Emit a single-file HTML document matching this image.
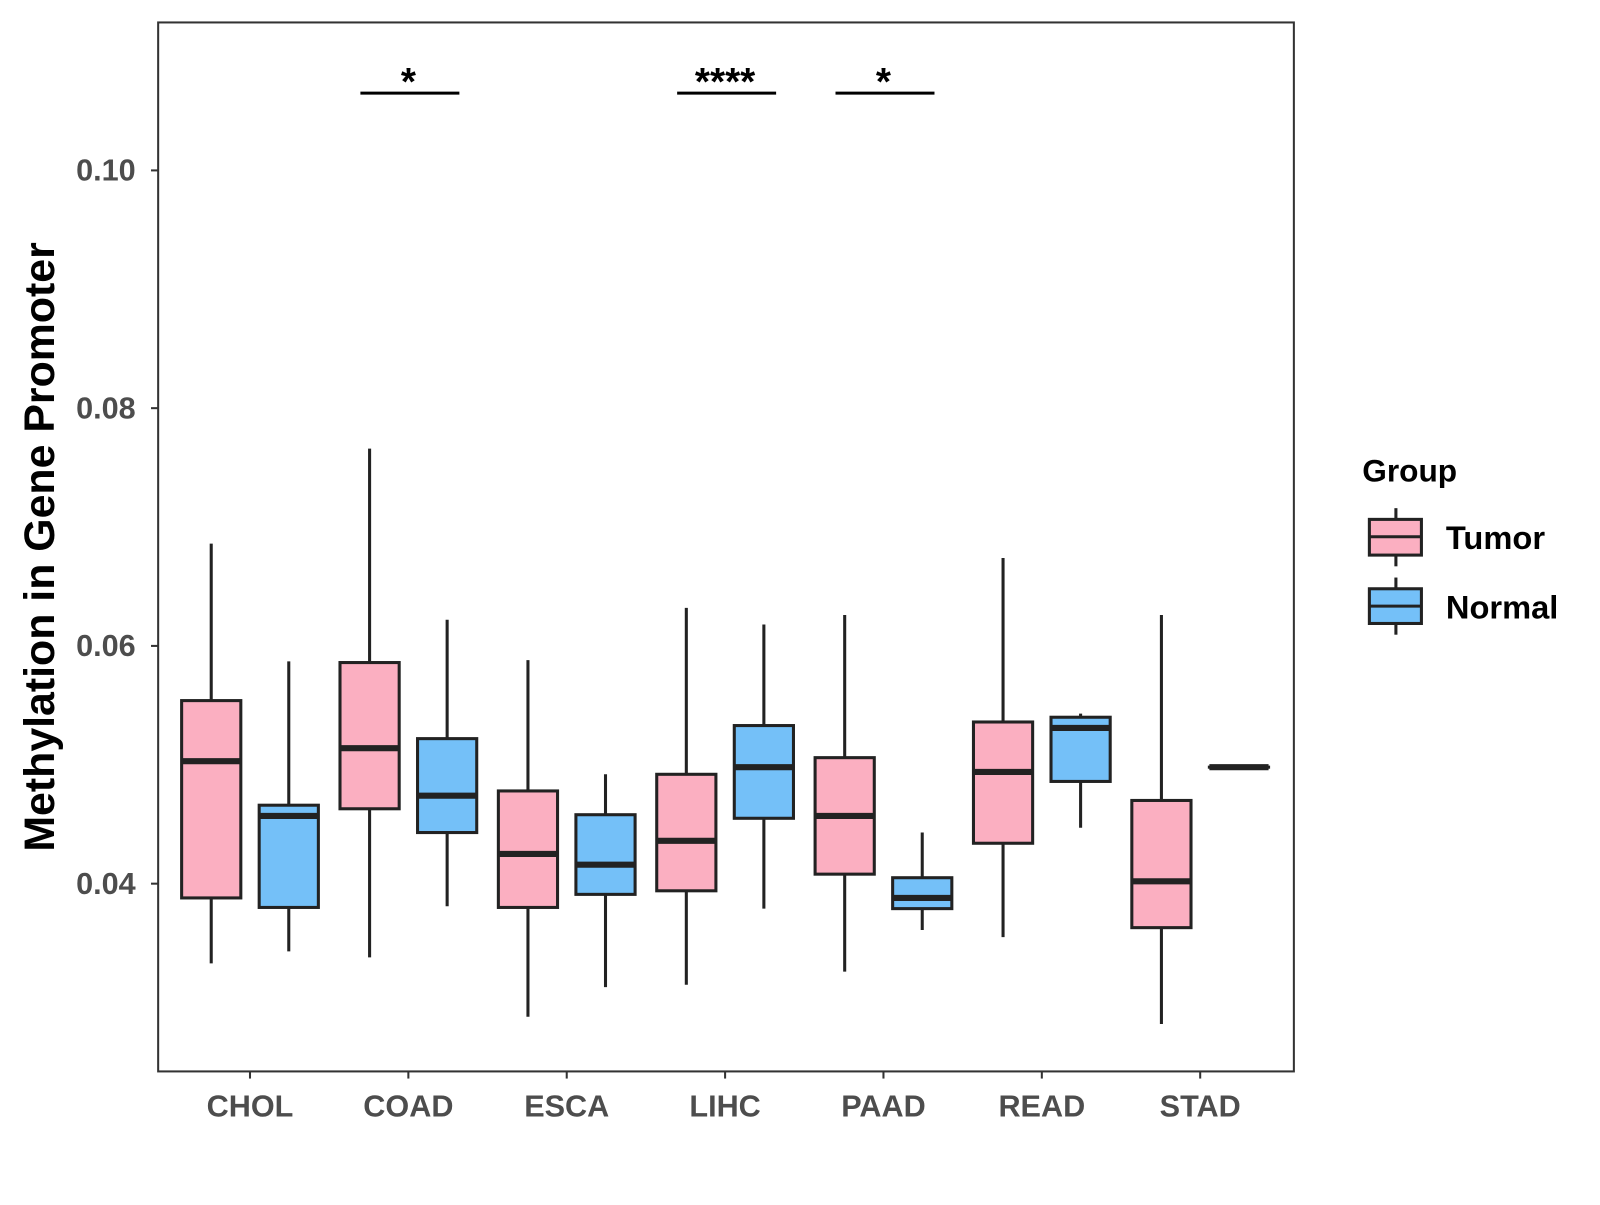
<!DOCTYPE html>
<html><head><meta charset="utf-8"><style>
body{margin:0;background:#fff}
text{font-family:"Liberation Sans",Arial,sans-serif;font-weight:bold}
</style></head><body>
<svg id="chart" width="1600" height="1200" viewBox="0 0 1600 1200" xmlns="http://www.w3.org/2000/svg">
<rect x="0" y="0" width="1600" height="1200" fill="#fff"/>
<g transform="scale(1.0204)">
<rect x="155" y="22" width="1113" height="1028" fill="none" stroke="#333" stroke-width="2"/>
<g id="g"></g>
<text transform="translate(53,536) rotate(-90)" text-anchor="middle" font-size="42" fill="#000">Methylation in Gene Promoter</text>
<text x="1335" y="472" font-size="31" fill="#000">Group</text>
<g>
<line x1="1368" y1="498" x2="1368" y2="555" stroke="#222" stroke-width="3"/>
<rect x="1342" y="509" width="51" height="35" fill="#FBAFC1" stroke="#222" stroke-width="3"/>
<line x1="1342" y1="526" x2="1393" y2="526" stroke="#222" stroke-width="3"/>
<text x="1417" y="538" font-size="32" fill="#000">Tumor</text></g>
<g>
<line x1="1368" y1="566" x2="1368" y2="622" stroke="#222" stroke-width="3"/>
<rect x="1342" y="577" width="51" height="34" fill="#74C0F8" stroke="#222" stroke-width="3"/>
<line x1="1342" y1="594" x2="1393" y2="594" stroke="#222" stroke-width="3"/>
<text x="1417" y="606" font-size="32" fill="#000">Normal</text></g>
</g>
</svg>
<script>
const categories=["CHOL","COAD","ESCA","LIHC","PAAD","READ","STAD"];
// [whiskerLow, q1, median, q3, whiskerHigh]
const tumorStats=[[0.0333,0.0388,0.0503,0.0554,0.0686],[0.0338,0.0463,0.0514,0.0586,0.0766],[0.0288,0.0380,0.0425,0.0478,0.0588],[0.0315,0.0394,0.0436,0.0492,0.0632],[0.0326,0.0408,0.0457,0.0506,0.0626],[0.0355,0.0434,0.0494,0.0536,0.0674],[0.0282,0.0363,0.0402,0.0470,0.0626]];
const normalStats=[[0.0343,0.0380,0.0457,0.0466,0.0587],[0.0381,0.0443,0.0474,0.0522,0.0622],[0.0313,0.0391,0.0416,0.0458,0.0492],[0.0379,0.0455,0.0498,0.0533,0.0618],[0.0361,0.0379,0.0388,0.0405,0.0443],[0.0447,0.0486,0.0531,0.0540,0.0543],[0.0498,0.0498,0.0498,0.0498,0.0498]];
const yTicks=[0.04,0.06,0.08,0.10];
const yTickLabels=["0.04","0.06","0.08","0.10"];
const sigLabels=["","*","","****","*","",""];
const sigY=0.1065;

const NS="http://www.w3.org/2000/svg";
const g=document.getElementById("g");
const yS=v=>866-(v-0.04)*11650;
const xS=i=>245+i*155.2;
function mk(t,a,p){const e=document.createElementNS(NS,t);for(const k in a)e.setAttribute(k,a[k]);(p||g).appendChild(e);return e;}
yTicks.forEach((v,i)=>{
  const y=yS(v);
  const t=mk("line",{x1:148,x2:155,y1:y,y2:y,stroke:"#333","stroke-width":2});
  
  
  const l=mk("text",{x:133,y:y+10,"text-anchor":"end","font-size":30,fill:"#4d4d4d"});
  l.textContent=yTickLabels[i];
  
  
});
categories.forEach((c,i)=>{
  const x=xS(i);
  const t=mk("line",{x1:x,x2:x,y1:1050,y2:1057,stroke:"#333","stroke-width":2});
  
  
  const l=mk("text",{x:x,y:1094,"text-anchor":"middle","font-size":30,fill:"#4d4d4d"});
  l.textContent=c;
  
  
  [[tumorStats[i],-38,"#FBAFC1","tumor"],[normalStats[i],38,"#74C0F8","normal"]].forEach(([s,off,col,nm])=>{
    const cx=x+off,w=58;
    const bg=mk("g",{});
    
    
    mk("line",{x1:cx,x2:cx,y1:yS(s[0]),y2:yS(s[4]),stroke:"#222","stroke-width":3},bg);
    const h=Math.max(0.01,yS(s[1])-yS(s[3]));
    mk("rect",{x:cx-w/2,y:yS(s[3]),width:w,height:h,fill:col,stroke:"#222","stroke-width":3},bg);
    mk("line",{x1:cx-w/2,x2:cx+w/2,y1:yS(s[2]),y2:yS(s[2]),stroke:"#222","stroke-width":6},bg);
  });
  if(sigLabels[i]){
    const y=yS(sigY);
    const b=mk("line",{x1:x-47,x2:x+50,y1:y,y2:y,stroke:"#000","stroke-width":3});
    
    
    const s=mk("text",{x:x,y:y+2,"text-anchor":"middle","font-size":38,fill:"#000"});
    s.textContent=sigLabels[i];
    
    
  }
});
</script>
</body></html>
